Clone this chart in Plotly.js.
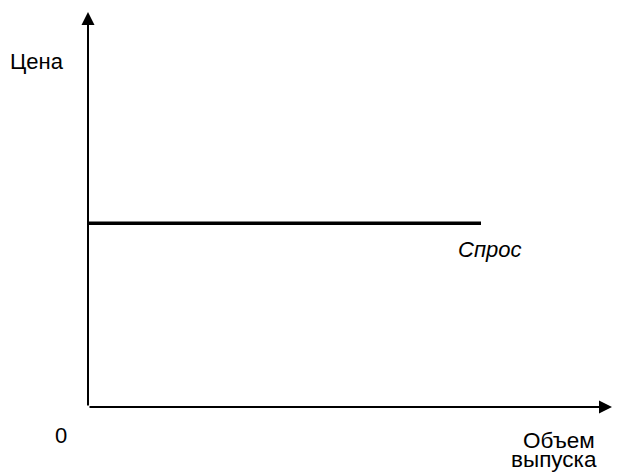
<!DOCTYPE html>
<html>
<head>
<meta charset="utf-8">
<script src="https://cdn.plot.ly/plotly-3.0.1.min.js"></script>
<style>html,body{margin:0;padding:0;background:#fff;}#chart{width:619px;height:472px;}</style>
</head>
<body>
<div id="chart"></div>
<script>
// Data
const demandX = [0, 7.5];
const demandY = [4, 4];
const xMax = 10;
const yMax = 8.6;
const labelPrice = "Цена";
const labelQuantity1 = "Объем";
const labelQuantity2 = "выпуска";
const labelDemand = "Спрос";
const labelOrigin = "0";

const font = {family: "Liberation Sans, Arial, sans-serif", size: 22, color: "#000"};
const fontQ = {family: "Liberation Sans, Arial, sans-serif", size: 22.5, color: "#000"};

const traces = [{
  x: demandX, y: demandY, type: "scatter", mode: "lines",
  line: {color: "#000", width: 3.5}, hoverinfo: "skip", showlegend: false
}];

const layout = {
  width: 619, height: 472,
  margin: {l: 88, r: 7, t: 12, b: 65},
  paper_bgcolor: "#fff", plot_bgcolor: "#fff",
  showlegend: false,
  xaxis: {range: [0, xMax], showgrid: false, zeroline: false, showticklabels: false, ticks: "", showline: false, fixedrange: true},
  yaxis: {range: [0, yMax], showgrid: false, zeroline: false, showticklabels: false, ticks: "", showline: false, fixedrange: true},
  annotations: [
    {x: 0, y: yMax, ax: 0, ay: 0, xref: "x", yref: "y", axref: "x", ayref: "y", text: "", showarrow: true,
     arrowhead: 2, arrowsize: 1.3, arrowwidth: 2, arrowcolor: "#000"},
    {x: xMax, y: 0, ax: 0, ay: 0, xref: "x", yref: "y", axref: "x", ayref: "y", text: "", showarrow: true,
     arrowhead: 2, arrowsize: 1.3, arrowwidth: 2, arrowcolor: "#000"},
    {x: -0.0973, y: 0.875, xref: "paper", yref: "paper", text: labelPrice, showarrow: false,
     xanchor: "center", yanchor: "middle", font: font},
    {x: -0.052, y: -0.071, xref: "paper", yref: "paper", text: labelOrigin, showarrow: false,
     xanchor: "center", yanchor: "middle", font: font},
    {x: 0.972, y: -0.085, xref: "paper", yref: "paper", text: labelQuantity1, showarrow: false,
     xanchor: "right", yanchor: "middle", font: fontQ},
    {x: 0.975, y: -0.133, xref: "paper", yref: "paper", text: labelQuantity2, showarrow: false,
     xanchor: "right", yanchor: "middle", font: fontQ},
    {x: 7.67, y: 3.42, xref: "x", yref: "y", text: "<i>" + labelDemand + "</i>", showarrow: false,
     xanchor: "center", yanchor: "middle", font: font}
  ]
};

Plotly.newPlot("chart", traces, layout, {displayModeBar: false, staticPlot: true});
</script>
</body>
</html>
